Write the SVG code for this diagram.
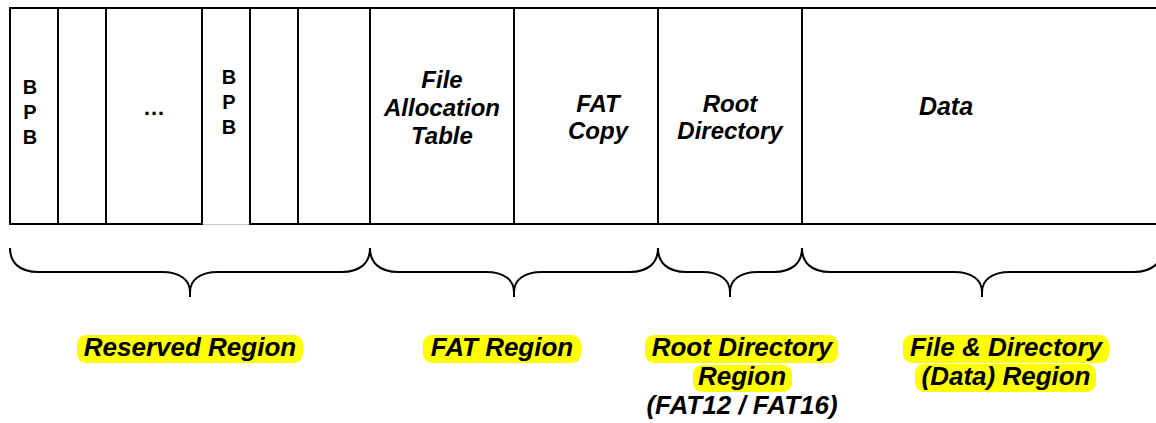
<svg xmlns="http://www.w3.org/2000/svg" width="1156" height="423" viewBox="0 0 1156 423">
  <style>
    .cell { fill: #ffffff; stroke: #000000; stroke-width: 2; }
    .bpb { font-family: "Liberation Sans", Arial, sans-serif; font-weight: bold; font-size: 20px; fill: #000; text-anchor: middle; }
    .dots { font-family: "Liberation Sans", Arial, sans-serif; font-weight: bold; font-size: 22px; fill: #000; text-anchor: middle; }
    .lbl { font-family: "Liberation Sans", Arial, sans-serif; font-weight: bold; font-style: italic; font-size: 24px; fill: #000; text-anchor: middle; }
    .reg { font-family: "Liberation Sans", Arial, sans-serif; font-weight: bold; font-style: italic; font-size: 26px; fill: #000; text-anchor: middle; }
    .hl { fill: #ffff00; }
    .brace { fill: none; stroke: #000000; stroke-width: 2; }
  </style>
  <rect width="1156" height="423" fill="#ffffff"/>

  <g id="cell-bpb1"><rect class="cell" x="10" y="8" width="48" height="216"/>
    <text class="bpb" x="30" y="94">B</text><text class="bpb" x="30" y="119">P</text><text class="bpb" x="30" y="144">B</text></g>
  <g id="cell-2"><rect class="cell" x="58" y="8" width="48" height="216"/></g>
  <g id="cell-dots"><rect class="cell" x="106" y="8" width="96" height="216"/>
    <text class="dots" x="154" y="115">…</text></g>
  <g id="cell-bpb2"><rect class="cell" x="202" y="8" width="48" height="216"/>
    <line x1="203" y1="224" x2="249" y2="224" stroke="#ffffff" stroke-width="2.2"/>
    <line x1="203" y1="224.5" x2="249" y2="224.5" stroke="#c8c8c8" stroke-width="1"/>
    <text class="bpb" x="229" y="84">B</text><text class="bpb" x="229" y="109">P</text><text class="bpb" x="229" y="134">B</text></g>
  <g id="cell-5"><rect class="cell" x="250" y="8" width="48" height="216"/></g>
  <g id="cell-6"><rect class="cell" x="298" y="8" width="72" height="216"/></g>
  <g id="cell-fat"><rect class="cell" x="370" y="8" width="144" height="216"/>
    <text class="lbl" x="442" y="88">File</text><text class="lbl" x="442" y="116">Allocation</text><text class="lbl" x="442" y="144">Table</text></g>
  <g id="cell-fatcopy"><rect class="cell" x="514" y="8" width="144" height="216"/>
    <text class="lbl" x="598" y="112">FAT</text><text class="lbl" x="598" y="139">Copy</text></g>
  <g id="cell-root"><rect class="cell" x="658" y="8" width="144" height="216"/>
    <text class="lbl" x="730" y="112">Root</text><text class="lbl" x="730" y="139">Directory</text></g>
  <g id="cell-data"><rect class="cell" x="802" y="8" width="370" height="216"/>
    <text class="lbl" x="946" y="115" style="font-size:25px">Data</text></g>

  <g id="connectors">
    <path class="brace" d="M10,248 C10,263 20,272 38,272 L162,272 C180,272 190,280 190,292 L190,297 L190,292 C190,280 200,272 218,272 L342,272 C360,272 370,263 370,248"/>
    <path class="brace" d="M370,248 C370,263 380,272 398,272 L486,272 C504,272 514,280 514,292 L514,297 L514,292 C514,280 524,272 542,272 L630,272 C648,272 658,263 658,248"/>
    <path class="brace" d="M658,248 C658,263 668,272 686,272 L702,272 C720,272 730,280 730,292 L730,297 L730,292 C730,280 740,272 758,272 L774,272 C792,272 802,263 802,248"/>
    <path class="brace" d="M802,248 C802,263 812,272 830,272 L954,272 C972,272 982,280 982,292 L982,297 L982,292 C982,280 992,272 1010,272 L1134,272 C1152,272 1162,263 1162,248"/>
  </g>

  <g id="label-reserved">
    <rect class="hl" x="77" y="335" width="226" height="28" rx="9"/>
    <text class="reg" x="190" y="356">Reserved Region</text></g>
  <g id="label-fat">
    <rect class="hl" x="423" y="335" width="158" height="28" rx="9"/>
    <text class="reg" x="502" y="356">FAT Region</text></g>
  <g id="label-root">
    <rect class="hl" x="645" y="335" width="193" height="28" rx="9"/>
    <rect class="hl" x="693" y="365" width="99" height="27" rx="9"/>
    <text class="reg" x="742" y="356">Root Directory</text>
    <text class="reg" x="742" y="385">Region</text>
    <text class="reg" x="742" y="414">(FAT12 / FAT16)</text></g>
  <g id="label-data">
    <rect class="hl" x="903" y="335" width="206" height="28" rx="9"/>
    <rect class="hl" x="915" y="364" width="181" height="28" rx="9"/>
    <text class="reg" x="1006" y="356">File &amp; Directory</text>
    <text class="reg" x="1006" y="385">(Data) Region</text></g>
</svg>
